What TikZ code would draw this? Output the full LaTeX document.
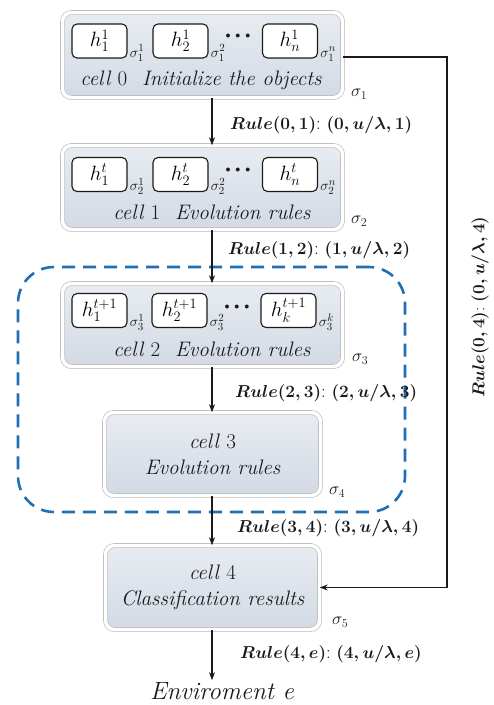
\documentclass[tikz,border=0pt]{standalone}
\usepackage{amsmath}
\usetikzlibrary{arrows.meta,shadows,calc}
\definecolor{cellA}{HTML}{E8ECF2}
\definecolor{cellB}{HTML}{D3DAE4}
\definecolor{dashblue}{HTML}{1F6FB2}
\definecolor{ink}{HTML}{1A1A1A}
\tikzset{
  cellbox/.style={rectangle, rounded corners=9pt, top color=cellA, bottom color=cellB,
    draw=black!28, double=white, double distance=3.5pt, line width=0.6pt,
    drop shadow={opacity=0.25, shadow xshift=0.8pt, shadow yshift=-1.5pt},
    font=\fontsize{21}{26}\selectfont\itshape, text=ink, align=center, inner sep=0pt},
  hbox/.style={rectangle, rounded corners=5pt, draw=ink, line width=1.1pt, fill=white,
    minimum width=55pt, minimum height=34pt, font=\fontsize{20}{22}\selectfont, inner sep=0pt},
  sig/.style={font=\fontsize{15}{17}\selectfont, inner sep=0pt, anchor=south west, text=ink},
  bigsig/.style={font=\fontsize{18}{20}\selectfont, inner sep=0pt, anchor=west, text=ink},
  celltext/.style={font=\fontsize{21}{24}\selectfont\itshape, inner sep=0pt, text=ink},
  dots/.style={font=\fontsize{10}{10}\selectfont, inner sep=0pt, text=ink},
  rulelab/.style={font=\fontsize{18.7}{21}\selectfont, inner sep=0pt, anchor=west, text=ink},
  arr/.style={draw=ink, line width=1.1pt, -{Stealth[length=8pt,width=6pt]}},
}
\newcommand{\rulel}[3]{{\boldmath$Rule(#1,#2)$}:~{\boldmath$(#1,u/\lambda,#3)$}}
\newcommand{\threedots}{$\bullet\mkern5mu\bullet\mkern5mu\bullet$}
\begin{document}
\begin{tikzpicture}[x=1pt,y=-1pt]
\useasboundingbox (0,0) rectangle (494,705);

% dashed group
\node[draw=dashblue, line width=2.6pt, dash pattern=on 13pt off 8pt, rounded corners=36pt,
  minimum width=387pt, minimum height=245pt, inner sep=0pt] (grp) at (211.5,389.5) {};

% cells
\node[cellbox, minimum width=280pt, minimum height=85pt] (c0) at (202.5,55) {};
\node[cellbox, minimum width=280pt, minimum height=84pt] (c1) at (202.5,187.5) {};
\node[cellbox, minimum width=280pt, minimum height=83pt] (c2) at (202.5,325) {};
\node[cellbox, minimum width=216pt, minimum height=83pt] (c3) at (212.5,454) {cell {\upshape 3}\\Evolution rules};
\node[cellbox, minimum width=214pt, minimum height=84pt] (c4) at (212.5,587.5) {cell {\upshape 4}\\Classification results};

% cell 0 content
\node[hbox] (h01) at (99.5,41) {$h_1^1$};
\node[hbox] (h02) at (180.5,41) {$h_2^1$};
\node[hbox] (h0n) at (290,41) {$h_n^1$};
\node[sig] (s01) at ($(h01.south east)+(2,3)$) {$\sigma_1^1$};
\node[sig] (s02) at ($(h02.south east)+(2,3)$) {$\sigma_1^2$};
\node[sig] (s0n) at ($(h0n.south east)+(2,3)$) {$\sigma_1^n$};
\node[dots] (d0) at (238,36) {\threedots};
\node[celltext] (t0) at (201,80) {cell {\upshape 0}\ \ Initialize the objects};
\node[bigsig] (S1) at (351,94) {$\sigma_1$};

% cell 1 content
\node[hbox] (h11) at (99.5,174.5) {$h_1^t$};
\node[hbox] (h12) at (180.5,174.5) {$h_2^t$};
\node[hbox] (h1n) at (290,174.5) {$h_n^t$};
\node[sig] (s11) at ($(h11.south east)+(2,3)$) {$\sigma_2^1$};
\node[sig] (s12) at ($(h12.south east)+(2,3)$) {$\sigma_2^2$};
\node[sig] (s1n) at ($(h1n.south east)+(2,3)$) {$\sigma_2^n$};
\node[dots] (d1) at (238,170) {\threedots};
\node[celltext] (t1) at (212,212) {cell {\upshape 1}\ \ Evolution rules};
\node[bigsig] (S2) at (351,221) {$\sigma_2$};

% cell 2 content
\node[hbox] (h21) at (99.5,310.5) {$h_1^{t+1}$};
\node[hbox] (h22) at (179.5,310.5) {$h_2^{t+1}$};
\node[hbox] (h2k) at (288.5,310.5) {$h_k^{t+1}$};
\node[sig] (s21) at ($(h21.south east)+(2,3)$) {$\sigma_3^1$};
\node[sig] (s22) at ($(h22.south east)+(2,3)$) {$\sigma_3^2$};
\node[sig] (s2k) at ($(h2k.south east)+(2,3)$) {$\sigma_3^k$};
\node[dots] (d2) at (237,307) {\threedots};
\node[celltext] (t2) at (212,349) {cell {\upshape 2}\ \ Evolution rules};
\node[bigsig] (S3) at (352,359) {$\sigma_3$};

\node[bigsig] (S4) at (329,492) {$\sigma_4$};
\node[bigsig] (S5) at (332,622) {$\sigma_5$};

% environment
\node[font=\fontsize{25}{28}\selectfont\itshape, text=ink, inner sep=2pt] (env) at (222,691) {Enviroment e};

% arrows
\draw[arr] (c0.south -| 212,0) -- (c1.north -| 212,0);
\draw[arr] (c1.south -| 212,0) -- (c2.north -| 212,0);
\draw[arr] (c2.south -| 212,0) -- (c3.north -| 212,0);
\draw[arr] (c3.south -| 212,0) -- (c4.north -| 212,0);
\draw[arr] (c4.south -| 212,0) -- (env.north -| 212,0);
\coordinate (rtop) at (447,57);
\draw[arr] (c0.east |- rtop) -- (rtop) |- (c4.east);

% rule labels
\node[rulelab] (r01) at (230,125) {\rulel{0}{1}{1}};
\node[rulelab] (r12) at (228,250) {\rulel{1}{2}{2}};
\node[rulelab] (r23) at (235,393) {\rulel{2}{3}{3}};
\node[rulelab] (r34) at (237,528) {\rulel{3}{4}{4}};
\node[rulelab] (r4e) at (240,654) {{\boldmath$Rule(4,e)$}:~{\boldmath$(4,u/\lambda,e)$}};
\node[rulelab, anchor=center, rotate=90, font=\fontsize{17}{19}\selectfont] (r04) at (480,307) {\rulel{0}{4}{4}};
\end{tikzpicture}
\end{document}
